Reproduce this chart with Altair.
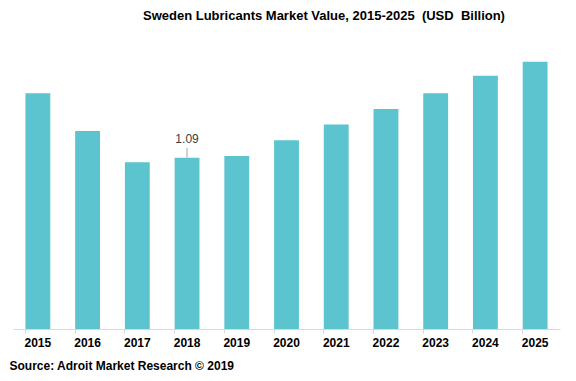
import altair as alt
import pandas as pd

years = ["2015", "2016", "2017", "2018", "2019", "2020", "2021", "2022", "2023", "2024", "2025"]
values = [1.50, 1.26, 1.06, 1.09, 1.10, 1.20, 1.30, 1.40, 1.50, 1.61, 1.70]
labels = ["", "", "", "1.09", "", "", "", "", "", "", ""]

df = pd.DataFrame({"year": years, "value": values, "label": labels})

FONT = "Liberation Sans"

x = alt.X(
    "year:N",
    sort=years,
    scale=alt.Scale(paddingInner=0.5, paddingOuter=0.25),
    axis=alt.Axis(
        title="Source: Adroit Market Research © 2019",
        titleFont=FONT,
        titleFontSize=12,
        titleFontWeight="bold",
        titleColor="#000000",
        titleAnchor="start",
        titleAlign="left",
        titleBaseline="middle",
        titleX=-4,
        titleY=36,
        labelFont=FONT,
        labelFontSize=12,
        labelFontWeight="bold",
        labelColor="#000000",
        labelAngle=0,
        labelPadding=4,
        domainColor="#D9D9D9",
        tickColor="#D9D9D9",
        tickSize=4,
        bandPosition=0,
    ),
)
y = alt.Y("value:Q", scale=alt.Scale(domain=[0, 1.8]), axis=None)

base = alt.Chart(df).encode(x=x)

bars = base.mark_bar(color="#5BC4CF").encode(y=y)

lab = df[df["label"] != ""]
leader = (
    alt.Chart(lab)
    .transform_calculate(top="datum.value + 0.063")
    .mark_rule(color="#A6A6A6", strokeWidth=1)
    .encode(x=alt.X("year:N", sort=years), y=alt.Y("value:Q"), y2="top:Q")
)
text = (
    alt.Chart(lab)
    .mark_text(font=FONT, fontSize=12, color="#404040", baseline="middle", dy=-19)
    .encode(x=alt.X("year:N", sort=years), y=alt.Y("value:Q"), text="label:N")
)

chart = (
    alt.layer(bars, leader, text)
    .properties(
        width=547,
        height=283,
        title=alt.Title(
            "Sweden Lubricants Market Value, 2015-2025\u00a0 (USD\u00a0 Billion)",
            font=FONT,
            fontSize=13,
            fontWeight="bold",
            color="#000000",
            anchor="start",
            dx=134,
            offset=17,
            baseline="middle",
        ),
        padding={"left": 5, "top": 38, "right": 8, "bottom": 50},
        autosize=alt.AutoSizeParams(type="none"),
    )
    .configure_view(stroke=None)
)

chart.save("out.html", embed_options={"renderer": "svg", "actions": False})
